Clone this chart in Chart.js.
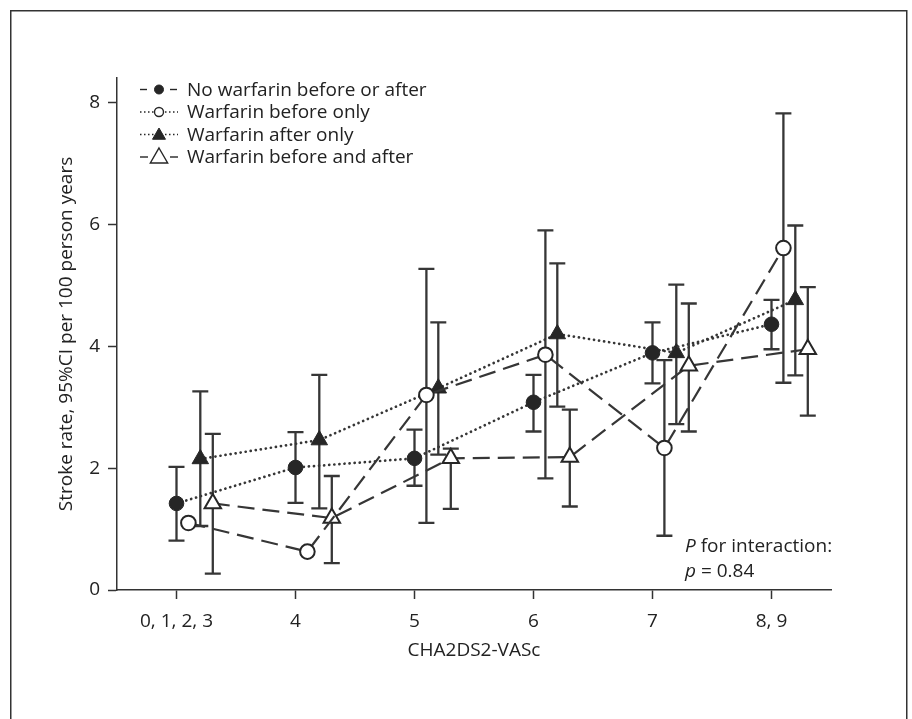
<!DOCTYPE html>
<html>
<head>
<meta charset="utf-8">
<script src="https://cdn.jsdelivr.net/npm/chart.js@4.4.1/dist/chart.umd.min.js"></script>
<style>
  html, body { margin: 0; padding: 0; background: #fff; }
  #wrap { position: relative; width: 912px; height: 719px; }
</style>
</head>
<body>
<div id="wrap"><canvas id="strokeChart"></canvas></div>
<script>
(function() {

    "use strict";

    // CHA2DS2-VASc groups and y ticks
    const categories = ['0, 1, 2, 3', '4', '5', '6', '7', '8, 9'];
    const yTicks = [0, 2, 4, 6, 8];

    // stroke rate per 100 person years, with 95% CI
    const noWarfarin = [1.42, 2.01, 2.16, 3.08, 3.89, 4.36];
    const noWarfarinLow = [0.81, 1.43, 1.71, 2.60, 3.39, 3.95];
    const noWarfarinHigh = [2.02, 2.59, 2.63, 3.53, 4.39, 4.76];

    const beforeOnly = [1.10, 0.63, 3.20, 3.86, 2.33, 5.61];
    const beforeOnlyLow = [null, null, 1.10, 1.83, 0.89, 3.40];
    const beforeOnlyHigh = [null, null, 5.27, 5.90, 3.77, 7.82];

    const afterOnly = [2.15, 2.46, 3.31, 4.20, 3.89, 4.76];
    const afterOnlyLow = [1.05, 1.34, 2.22, 3.01, 2.72, 3.52];
    const afterOnlyHigh = [3.26, 3.53, 4.39, 5.36, 5.01, 5.98];

    const beforeAndAfter = [1.42, 1.18, 2.16, 2.18, 3.68, 3.95];
    const beforeAndAfterLow = [0.27, 0.44, 1.33, 1.37, 2.60, 2.86];
    const beforeAndAfterHigh = [2.56, 1.87, 2.32, 2.96, 4.70, 4.97];

    const legendLabels = ['No warfarin before or after', 'Warfarin before only',
        'Warfarin after only', 'Warfarin before and after'];

    const ink = '#262626';
    const lineInk = '#363636';
    const dotted = [0.1, 5];
    const dashed = [17, 8];
    const fontFamily = "'Open Sans', sans-serif";
    const fontSize = 19;

    function points(values, offset) {
        return values.map(function(v, i) { return { x: i + offset, y: v }; });
    }

    function series(label, values, low, high, offset, style, filled, dash) {
        const r = style === 'triangle' ? 9.5 : 7.3;
        return {
            label: label,
            data: points(values, offset),
            errLow: low,
            errHigh: high,
            showLine: true,
            borderColor: lineInk,
            borderWidth: dash === dotted ? 2.7 : 2.2,
            borderDash: dash,
            borderCapStyle: dash === dotted ? 'round' : 'butt',
            tension: 0,
            fill: false,
            pointStyle: style,
            pointRadius: r,
            pointHoverRadius: r,
            pointBackgroundColor: filled ? ink : '#fff',
            pointBorderColor: ink,
            pointBorderWidth: filled ? 1 : 2,
        };
    }

    const errorBars = {
        id: 'errorBars',
        beforeDatasetsDraw: function(chart) {
            const ctx = chart.ctx, x = chart.scales.x, y = chart.scales.y;
            ctx.save();
            ctx.strokeStyle = lineInk;
            ctx.lineWidth = 2.3;
            chart.data.datasets.forEach(function(ds) {
                ds.data.forEach(function(pt, i) {
                    if (ds.errLow[i] == null) return;
                    const px = x.getPixelForValue(pt.x),
                        top = y.getPixelForValue(ds.errHigh[i]),
                        bot = y.getPixelForValue(ds.errLow[i]);
                    ctx.beginPath();
                    ctx.moveTo(px, top); ctx.lineTo(px, bot);
                    ctx.moveTo(px - 8, top); ctx.lineTo(px + 8, top);
                    ctx.moveTo(px - 8, bot); ctx.lineTo(px + 8, bot);
                    ctx.stroke();
                });
            });
            ctx.restore();
        }
    };

    function marker(ctx, style, cx, cy, r, filled) {
        ctx.beginPath();
        if (style === 'circle') {
            ctx.arc(cx, cy, r, 0, Math.PI * 2);
        } else {
            ctx.moveTo(cx, cy - r);
            ctx.lineTo(cx + r * 0.866, cy + r * 0.5);
            ctx.lineTo(cx - r * 0.866, cy + r * 0.5);
            ctx.closePath();
        }
        ctx.fillStyle = filled ? ink : '#fff';
        ctx.fill();
        ctx.lineWidth = filled ? 1 : 1.4;
        ctx.strokeStyle = ink;
        ctx.stroke();
    }

    // frame, legend and the interaction note
    const extras = {
        id: 'extras',
        afterDraw: function(chart) {
            const ctx = chart.ctx;
            ctx.save();
            ctx.strokeStyle = '#333';
            ctx.lineWidth = 1.5;
            ctx.strokeRect(10.75, 10.75, 896, 800);

            const rows = [
                { style: 'circle', filled: true, dash: [7, 100], r: 4.5 },
                { style: 'circle', filled: false, dash: [1.5, 2.5], r: 4.5 },
                { style: 'triangle', filled: true, dash: [1.5, 2.5], r: 7.5 },
                { style: 'triangle', filled: false, dash: [8, 100], r: 10 }
            ];
            ctx.font = fontSize + 'px ' + fontFamily;
            ctx.textBaseline = 'middle';
            rows.forEach(function(row, i) {
                const cy = 89.5 + i * 22.5, cx = 159;
                ctx.strokeStyle = ink;
                ctx.lineWidth = 1.4;
                ctx.setLineDash(row.dash);
                ctx.beginPath();
                ctx.moveTo(140, cy); ctx.lineTo(cx - 2, cy);
                ctx.stroke();
                ctx.beginPath();
                ctx.moveTo(row.dash[0] > 5 ? 170 : cx + 2, cy); ctx.lineTo(178, cy);
                ctx.stroke();
                ctx.setLineDash([]);
                marker(ctx, row.style, cx, cy + (row.style === 'triangle' ? 1 : 0), row.r, row.filled);
                ctx.fillStyle = '#222';
                ctx.fillText(legendLabels[i], 187, cy + 1);
            });

            const tx = 685;
            ctx.font = 'italic ' + fontSize + 'px ' + fontFamily;
            ctx.fillText('P', tx, 547);
            let w = ctx.measureText('P').width;
            ctx.font = fontSize + 'px ' + fontFamily;
            ctx.fillText(' for interaction:', tx + w, 547);
            ctx.font = 'italic ' + fontSize + 'px ' + fontFamily;
            ctx.fillText('p', tx, 572);
            w = ctx.measureText('p').width;
            ctx.font = fontSize + 'px ' + fontFamily;
            ctx.fillText(' = 0.84', tx + w, 572);
            ctx.restore();
        }
    };

    Chart.defaults.font.family = fontFamily;
    Chart.defaults.font.size = fontSize;
    Chart.defaults.color = '#222';

    const axisLine = {
        grid: { display: true, drawOnChartArea: false, drawTicks: true, tickLength: 9, tickColor: '#333', tickWidth: 1.5 },
        border: { display: true, color: '#333', width: 1.5 }
    };

    new Chart(document.getElementById('strokeChart'), {
        type: 'line',
        data: {
            datasets: [
                series(legendLabels[0], noWarfarin, noWarfarinLow, noWarfarinHigh, 0, 'circle', true, dotted),
                series(legendLabels[1], beforeOnly, beforeOnlyLow, beforeOnlyHigh, 0.1, 'circle', false, dashed),
                series(legendLabels[2], afterOnly, afterOnlyLow, afterOnlyHigh, 0.2, 'triangle', true, dotted),
                series(legendLabels[3], beforeAndAfter, beforeAndAfterLow, beforeAndAfterHigh, 0.305, 'triangle', false, dashed)
            ]
        },
        options: {
            responsive: true,
            maintainAspectRatio: false,
            animation: false,
            layout: { padding: { top: 78, right: 81, bottom: 0, left: 0 } },
            plugins: {
                legend: { display: false },
                tooltip: { enabled: false }
            },
            scales: {
                x: Object.assign({
                    type: 'linear',
                    min: -0.5,
                    max: 5.5,
                    afterBuildTicks: function(axis) {
                        axis.ticks = categories.map(function(c, i) { return { value: i }; });
                    },
                    afterFit: function(axis) { axis.height = 129; },
                    ticks: {
                        padding: 11,
                        callback: function(value) { return categories[value]; }
                    },
                    title: {
                        display: true,
                        text: 'CHA2DS2-VASc',
                        padding: { top: 0, bottom: 57.5 }
                    }
                }, axisLine),
                y: Object.assign({
                    min: 0,
                    max: 8.4,
                    afterBuildTicks: function(axis) {
                        axis.ticks = yTicks.map(function(v) { return { value: v }; });
                    },
                    afterFit: function(axis) { axis.width = 117; },
                    ticks: { padding: 8 },
                    title: {
                        display: true,
                        text: 'Stroke rate, 95%CI per 100 person years',
                        padding: { top: 55, bottom: 0 }
                    }
                }, axisLine)
            }
        },
        plugins: [errorBars, extras]
    });
})();
</script>
</body>
</html>
